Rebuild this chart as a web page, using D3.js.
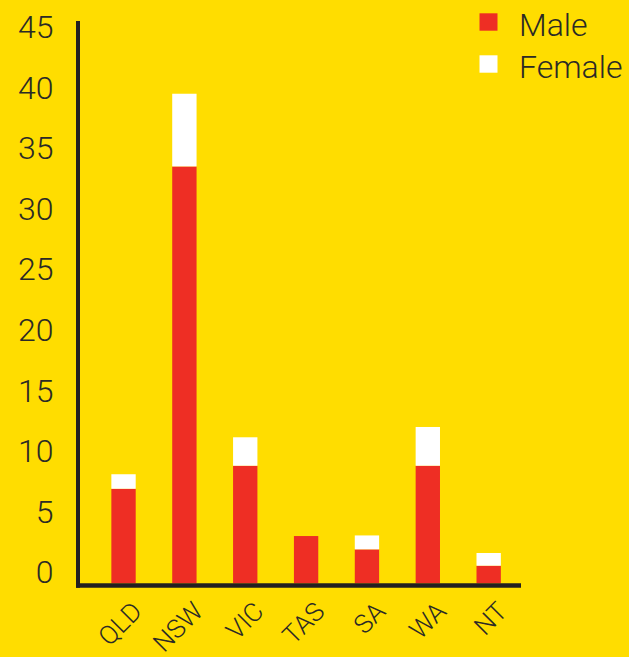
<!DOCTYPE html>
<html>
<head>
<meta charset="utf-8">
<script src="https://cdn.jsdelivr.net/npm/d3@7"></script>
<style>
  html, body { margin: 0; padding: 0; background: #FFDD00; }
  svg { display: block; }
  text { font-family: Roboto, "Liberation Sans", sans-serif; font-weight: 300; fill: #2b2a26; }
</style>
</head>
<body>
<svg id="chart" width="629" height="657"></svg>
<script>
// States and territories along the x axis
const states = ["QLD", "NSW", "VIC", "TAS", "SA", "WA", "NT"];
// Stacked counts per state
const male   = [7.8, 34.4, 9.7, 3.9, 2.8, 9.7, 1.45];
const female = [1.2, 6.0, 2.35, 0, 1.15, 3.2, 1.05];
// Y axis tick values
const yTicks = [0, 5, 10, 15, 20, 25, 30, 35, 40, 45];
const seriesNames = ["Male", "Female"];
const seriesColors = ["#EE2E24", "#FFFFFF"];

const svg = d3.select("#chart");
const W = 629, H = 657;

svg.append("rect").attr("width", W).attr("height", H).attr("fill", "#FFDD00");

const x = d3.scaleBand()
  .domain(states)
  .range([93.1, 519.1])
  .paddingInner(0.6)
  .paddingOuter(0.3);

const y = d3.scaleLinear().domain([0, 45]).range([583.3, 38]);

// Build stacked rows
const rows = states.map((s, i) => ({ state: s, Male: male[i], Female: female[i] }));
const stack = d3.stack().keys(seriesNames)(rows);

const color = d3.scaleOrdinal().domain(seriesNames).range(seriesColors);

svg.append("g").selectAll("g")
  .data(stack)
  .join("g")
  .attr("fill", d => color(d.key))
  .selectAll("rect")
  .data(d => d)
  .join("rect")
  .attr("x", d => x(d.data.state))
  .attr("width", x.bandwidth())
  .attr("y", d => y(d[1]))
  .attr("height", d => Math.max(0, y(d[0]) - y(d[1])));

// Y tick labels: right-aligned, baseline sitting on the value
svg.append("g").selectAll("text")
  .data(yTicks)
  .join("text")
  .attr("x", 53.5)
  .attr("y", d => y(d))
  .attr("text-anchor", "end")
  .attr("font-size", 32)
  .text(d => d);

// Axis lines
const axisColor = "#231F20";
svg.append("line")
  .attr("x1", 78).attr("x2", 78)
  .attr("y1", 21).attr("y2", 587.7)
  .attr("stroke", axisColor).attr("stroke-width", 4);
svg.append("line")
  .attr("x1", 76).attr("x2", 521)
  .attr("y1", 585.5).attr("y2", 585.5)
  .attr("stroke", axisColor).attr("stroke-width", 4.4);

// X category labels, rotated
svg.append("g").selectAll("text")
  .data(states)
  .join("text")
  .attr("text-anchor", "end")
  .attr("font-size", 26)
  .attr("transform", d => `translate(${x(d) + x.bandwidth() / 2 + 20},613) rotate(-45)`)
  .text(d => d);

// Legend
const legend = svg.append("g").selectAll("g")
  .data(seriesNames)
  .join("g")
  .attr("transform", (d, i) => `translate(0,${i * 42})`);
legend.append("rect")
  .attr("x", 479.5).attr("y", 13.3)
  .attr("width", 18).attr("height", 17.4)
  .attr("fill", d => color(d));
legend.append("text")
  .attr("x", 519).attr("y", 35.5)
  .attr("font-size", 32)
  .text(d => d);
</script>
</body>
</html>
